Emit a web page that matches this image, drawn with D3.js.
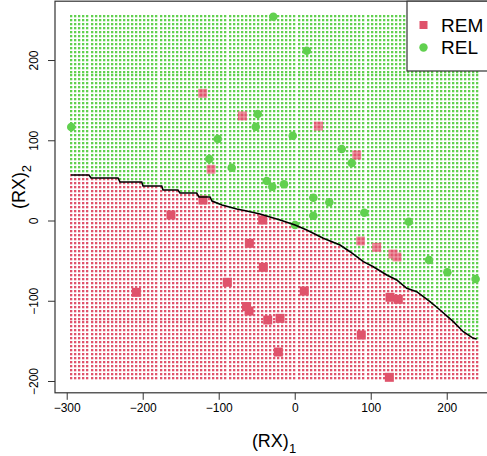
<!DOCTYPE html>
<html>
<head>
<meta charset="utf-8">
<script src="https://cdn.jsdelivr.net/npm/d3@7"></script>
<style>
body { margin: 0; background: #fff; }
text { font-family: "Liberation Sans", Arial, sans-serif; fill: #000; }
</style>
</head>
<body>
<div id="chart"></div>
<script>
var red = "#DF536B", green = "#61D04F";

// observations (RX)1, (RX)2
var remX = [-121.1, -68.9, -110.1, 31.1, 81.6, 86.8, 107.9, 129.3, 134.6,
	-120.7, -162.8, -42.1, -59.7, -41.3, 12.6, -63.4, -60.1, -35.5, -19.3, -21.6,
	87.6, 124.5, 125.4, 136.3, -208.4, -88.7];
var remY = [158.5, 130.2, 63.8, 117.8, 81.6, -25.5, -33.4, -41.7, -45.5,
	25.5, 6.9, 0.6, -28.4, -58.3, -87.9, -107.2, -112.8, -124, -121.9, -163.9,
	-142.7, -195.4, -95.7, -98.2, -89.5, -77];
var relX = [-294, -101.3, -112.4, -82.9, -28.2, 15.8, -48.7, -51.3, -2.6, 61.8, 75.0,
	-36.8, -29.5, -14.1, 24.5, 45.5, 24.5, 91.6, 150, 0.4, 176.7, 200.8, 238];
var relY = [116.5, 101.6, 76.6, 65.8, 254.0, 211.6, 132.7, 116.9, 105.7, 89.1, 71.7,
	49.2, 42.1, 45.1, 28.4, 22.7, 6.0, 9.7, -1.5, -5.6, -49.2, -64.5, -72.9];

// decision boundary
var boundaryX = [-294.3, -270.7, -268, -232.5, -229.9, -201.3, -199.6, -175, -173.3, -153.6,
	-151, -129, -126, -111.4, -108.8, -95.7, -76.3, -63.2, -45.7, -19.3, 0.4, 15.8, 37.6,
	59.6, 72.8, 90.3, 103.4, 121.1, 134.2, 147.4, 160.5, 178, 191.2, 208.7, 221.8, 235, 239.5];
var boundaryY = [56.7, 56.7, 53, 53, 48, 48, 43, 43, 38, 38, 34.3, 34.3, 29.3, 29.3, 24.3,
	19.3, 14.3, 11.8, 8.1, 0.6, -5.6, -11.8, -22.2, -30.5, -38.9, -51.3, -57.6, -67.9,
	-74.1, -84.5, -88.7, -101.2, -111.5, -126.1, -138.6, -146.8, -147.7];

var xTicks = [-300, -200, -100, 0, 100, 200];
var yTicks = [-200, -100, 0, 100, 200];
var classes = ["REM", "REL"];

var width = 487, height = 456;
var x = d3.scaleLinear().domain([-315.4, 261.4]).range([55, 493.4]);
var y = d3.scaleLinear().domain([-214.7, 273.3]).range([392.8, 1.2]);

// prediction grid
var gridX = d3.range(101).map(function(i){ return -294 + i * 534 / 100; });
var gridY = d3.range(92).map(function(j){ return -196.6 + j * 451.8 / 91; });

var bound = d3.scaleLinear().domain(boundaryX).range(boundaryY).clamp(true);
function isRem(px, py){ return py < bound(px); }
function px(v){ return Math.round(x(v) - 1); }
function py(v){ return Math.round(y(v) - 1); }

var svg = d3.select("#chart").append("svg")
	.attr("width", width).attr("height", height);

var grid = [];
gridX.forEach(function(gx){
	gridY.forEach(function(gy){ grid.push([gx, gy]); });
});
var ds = 2.3;
svg.append("g").selectAll("rect")
	.data(grid).enter().append("rect")
	.attr("x", function(d){ return px(d[0]); })
	.attr("y", function(d){ return py(d[1]); })
	.attr("width", ds).attr("height", ds)
	.style("fill", function(d){ return isRem(d[0], d[1]) ? red : green; });

// REM squares
var sq = 9;
var rem = remX.map(function(v, i){ return [v, remY[i]]; });
var remG = svg.append("g");
rem.forEach(function(d, i){
	var cx = x(d[0]), cy = y(d[1]);
	if (isRem(d[0], d[1])) {
		remG.append("rect")
			.attr("x", cx - sq/2).attr("y", cy - sq/2)
			.attr("width", sq).attr("height", sq)
			.style("fill", red);
	} else {
		// misclassified: grid shows through
		var cid = "clip" + i;
		svg.append("clipPath").attr("id", cid).append("rect")
			.attr("x", cx - sq/2).attr("y", cy - sq/2)
			.attr("width", sq).attr("height", sq);
		var g = remG.append("g").attr("clip-path", "url(#" + cid + ")");
		g.append("rect")
			.attr("x", cx - sq/2).attr("y", cy - sq/2)
			.attr("width", sq).attr("height", sq)
			.style("fill", "#F0A8B2");
		grid.filter(function(p){
			return Math.abs(x(p[0]) - cx) < sq && Math.abs(y(p[1]) - cy) < sq;
		}).forEach(function(p){
			g.append("rect")
				.attr("x", px(p[0]) - 0.5).attr("y", py(p[1]) - 0.5)
				.attr("width", 3).attr("height", 3)
				.style("fill", red);
		});
	}
});

// REL circles
svg.append("g").selectAll("circle")
	.data(relX.map(function(v, i){ return [v, relY[i]]; }))
	.enter().append("circle")
	.attr("cx", function(d){ return x(d[0]); })
	.attr("cy", function(d){ return y(d[1]); })
	.attr("r", 4.3)
	.style("fill", green);

// boundary line
svg.append("path")
	.datum(boundaryX.map(function(v, i){ return [v, boundaryY[i]]; }))
	.attr("d", d3.line().x(function(d){ return x(d[0]); }).y(function(d){ return y(d[1]); }))
	.style("fill", "none").style("stroke", "#000").style("stroke-width", 1.6);

// box
svg.append("rect")
	.attr("x", x.range()[0]).attr("y", y.range()[1])
	.attr("width", x.range()[1] - x.range()[0])
	.attr("height", y.range()[0] - y.range()[1])
	.style("fill", "none").style("stroke", "#333").style("stroke-width", 1.2);

// axes
var xAxis = svg.append("g").attr("transform", "translate(0," + y.range()[0] + ")")
	.call(d3.axisBottom(x).tickValues(xTicks).tickSize(7).tickPadding(4)
		.tickFormat(function(d){ return d < 0 ? "\u2212" + Math.abs(d) : d; }));
xAxis.select(".domain").remove();
xAxis.selectAll("line").style("stroke", "#333");
xAxis.selectAll("text").style("font-size", "12px")
	.style("font-family", "Liberation Sans, Arial, sans-serif").attr("fill", "#000");

var yAxis = svg.append("g").attr("transform", "translate(" + x.range()[0] + ",0)")
	.call(d3.axisLeft(y).tickValues(yTicks).tickSize(7)
		.tickFormat(function(d){ return d < 0 ? "\u2212" + Math.abs(d) : d; }));
yAxis.select(".domain").remove();
yAxis.selectAll("line").style("stroke", "#333");
yAxis.selectAll("text")
	.attr("x", null).attr("dy", null)
	.attr("text-anchor", "middle")
	.attr("transform", "translate(-17,0) rotate(-90)")
	.style("font-size", "12px")
	.style("font-family", "Liberation Sans, Arial, sans-serif").attr("fill", "#000");

// axis titles
var xt = svg.append("text").attr("x", 274).attr("y", 447)
	.attr("text-anchor", "middle").style("font-size", "18px");
xt.append("tspan").text("(RX)");
xt.append("tspan").attr("dy", 6).style("font-size", "13px").text("1");

var yt = svg.append("text")
	.attr("transform", "translate(25,187) rotate(-90)")
	.attr("text-anchor", "middle").style("font-size", "18px");
yt.append("tspan").text("(RX)");
yt.append("tspan").attr("dy", 6).style("font-size", "13px").text("2");

// legend
var lg = svg.append("g");
lg.append("rect").attr("x", 407).attr("y", y.range()[1])
	.attr("width", 100).attr("height", 71 - y.range()[1])
	.style("fill", "#fff").style("stroke", "#333").style("stroke-width", 1.2);
lg.append("rect").attr("x", 423.5 - 4).attr("y", 25 - 4).attr("width", 8).attr("height", 8)
	.style("fill", red);
lg.append("circle").attr("cx", 423.5).attr("cy", 47.5).attr("r", 4.2).style("fill", green);
lg.selectAll(".lab").data(classes).enter().append("text")
	.attr("x", 441).attr("y", function(d, i){ return 25 + i * 22.5; })
	.attr("dy", "0.36em").style("font-size", "19px")
	.text(function(d){ return d; });
</script>
</body>
</html>
